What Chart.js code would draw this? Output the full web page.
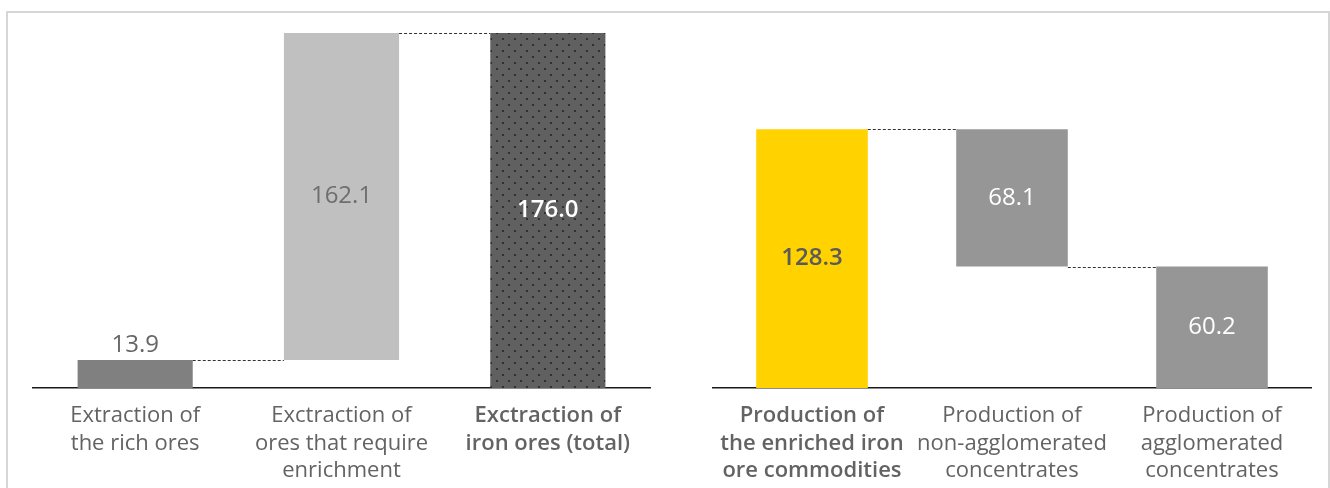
<!DOCTYPE html>
<html>
<head>
<meta charset="utf-8">
<script src="https://cdn.jsdelivr.net/npm/chart.js@4/dist/chart.umd.min.js"></script>
<style>
  html, body { margin: 0; padding: 0; background: #fff; overflow: hidden; }
  body { width: 1330px; height: 488px; position: relative; }
  #frame { position: absolute; left: 6px; top: 11px; width: 1320px; height: 500px; border: 2px solid #d6d6d6; }
  .wrap { position: absolute; top: 0; height: 488px; }
  #wl { left: 32px; width: 619px; }
  #wr { left: 712px; width: 600px; }
</style>
</head>
<body>
<div id="frame"></div>
<div class="wrap" id="wl"><canvas id="cl"></canvas></div>
<div class="wrap" id="wr"><canvas id="cr"></canvas></div>
<script>
// ── data (million tonnes) ──
const leftCats = [
  ["Extraction of", "the rich ores"],
  ["Exctraction of", "ores that require", "enrichment"],
  ["Exctraction of", "iron ores (total)"],
];
const leftValues = [13.9, 162.1, 176.0];

const rightCats = [
  ["Production of", "the enriched iron", "ore commodities"],
  ["Production of", "non-agglomerated", "concentrates"],
  ["Production of", "agglomerated", "concentrates"],
];
const rightValues = [128.3, 68.1, 60.2];

const Y_MAX = 176;
const FONT = "'Open Sans', 'Liberation Sans', sans-serif";

// dotted fill for the total bar
function dotPattern() {
  const c = document.createElement("canvas");
  c.width = 12; c.height = 12;
  const g = c.getContext("2d");
  g.fillStyle = "#606060";
  g.fillRect(0, 0, 12, 12);
  g.fillStyle = "#262626";
  g.beginPath(); g.arc(3, 3, 1.1, 0, Math.PI * 2); g.fill();
  g.beginPath(); g.arc(9, 9, 1.1, 0, Math.PI * 2); g.fill();
  return g.createPattern(c, "repeat");
}

// waterfall ranges
const leftRanges = [
  [0, leftValues[0]],
  [leftValues[0], leftValues[0] + leftValues[1]],
  [0, leftValues[2]],
];
const rightRanges = [
  [0, rightValues[0]],
  [rightValues[2], rightValues[2] + rightValues[1]],
  [0, rightValues[2]],
];

// dashed connectors: [fromIndex, level]
const connectorPlugin = {
  id: "connectors",
  afterDatasetsDraw(chart, args, opts) {
    const { ctx, scales: { y } } = chart;
    const bars = chart.getDatasetMeta(0).data;
    ctx.save();
    ctx.strokeStyle = "#333";
    ctx.lineWidth = 1;
    ctx.setLineDash([3, 2]);
    opts.links.forEach(([i, lvl]) => {
      const yy = Math.round(y.getPixelForValue(lvl)) + 0.5;
      ctx.beginPath();
      ctx.moveTo(bars[i].x + bars[i].width / 2, yy);
      ctx.lineTo(bars[i + 1].x - bars[i + 1].width / 2, yy);
      ctx.stroke();
    });
    ctx.restore();
  },
};

// value labels
const valuePlugin = {
  id: "values",
  afterDatasetsDraw(chart, args, opts) {
    const { ctx } = chart;
    const bars = chart.getDatasetMeta(0).data;
    ctx.save();
    ctx.textAlign = "center";
    ctx.textBaseline = "middle";
    opts.labels.forEach((l, i) => {
      const b = bars[i];
      const top = Math.min(b.y, b.base), bot = Math.max(b.y, b.base);
      const yy = l.above ? top - 15 : (top + bot) / 2;
      ctx.font = `${l.weight || "normal"} ${l.size || 24}px ${FONT}`;
      ctx.fillStyle = l.color;
      ctx.fillText(l.text, b.x, yy);
    });
    ctx.restore();
  },
};

function makeChart(id, cats, ranges, colors, boldIdx, links, labels) {
  return new Chart(document.getElementById(id), {
    type: "bar",
    data: {
      labels: cats,
      datasets: [{
        data: ranges,
        backgroundColor: colors,
        borderWidth: 0,
        barPercentage: 0.558,
        categoryPercentage: 1,
      }],
    },
    options: {
      responsive: true,
      maintainAspectRatio: false,
      animation: false,
      layout: { padding: { top: 33, left: 0, right: 0, bottom: 0 } },
      plugins: {
        legend: { display: false },
        tooltip: { enabled: false },
        connectors: { links },
        values: { labels },
      },
      scales: {
        y: { display: false, min: 0, max: Y_MAX },
        x: {
          grid: { display: false, drawTicks: false },
          border: { display: true, color: "#1a1a1a", width: 1.5 },
          // fixed band under the axis, and no side padding for wide labels
          afterFit: s => { s.height = 100; s.paddingLeft = 0; s.paddingRight = 0; },
          ticks: {
            padding: 14,
            maxRotation: 0,
            autoSkip: false,
            color: "#636363",
            font: c => ({
              family: FONT,
              size: 22,
              weight: boldIdx.includes(c.index) ? "600" : "normal",
              lineHeight: 1.25,
            }),
          },
        },
      },
    },
    plugins: [connectorPlugin, valuePlugin],
  });
}

makeChart("cl", leftCats, leftRanges,
  ["#808080", "#c0c0c0", dotPattern()],
  [2],
  [[0, leftRanges[0][1]], [1, leftRanges[1][1]]],
  [
    { text: leftValues[0].toFixed(1), color: "#666", above: true },
    { text: leftValues[1].toFixed(1), color: "#6e6e6e" },
    { text: leftValues[2].toFixed(1), color: "#fff", weight: "600" },
  ]);

makeChart("cr", rightCats, rightRanges,
  ["#ffd200", "#969696", "#969696"],
  [0],
  [[0, rightRanges[0][1]], [1, rightRanges[1][0]]],
  [
    { text: rightValues[0].toFixed(1), color: "#5a5a5a", weight: "600" },
    { text: rightValues[1].toFixed(1), color: "#fff" },
    { text: rightValues[2].toFixed(1), color: "#fff" },
  ]);
</script>
</body>
</html>
